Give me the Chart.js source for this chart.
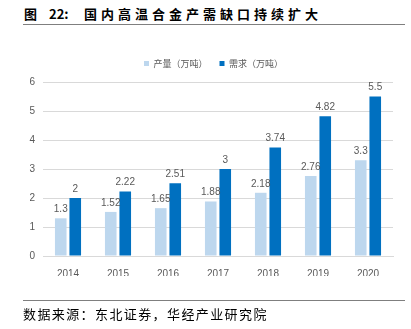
<!DOCTYPE html>
<html>
<head>
<meta charset="utf-8">
<script src="https://cdn.jsdelivr.net/npm/chart.js@4"></script>
<style>
  html, body { margin: 0; padding: 0; background: #fff; }
  body { width: 411px; height: 329px; position: relative; overflow: hidden; }
  #chart { position: absolute; left: 0; top: 0; }
  .title {
    position: absolute; top: 4px;
    font: bold 13px "Noto Sans CJK SC", sans-serif; color: #000;
    white-space: nowrap;
  }
  .rule { position: absolute; left: 23px; width: 382px; height: 1px; background: #7f7f7f; }
  .source {
    position: absolute; left: 23px; top: 304px;
    font: 13px "Noto Sans CJK SC", sans-serif; letter-spacing: 1.4px; color: #000;
    white-space: nowrap;
  }
</style>
</head>
<body>
<div class="title" style="left:24px">图</div>
<div class="title" style="left:49px">22:</div>
<div class="title" style="left:84px; letter-spacing:4px">国内高温合金产需缺口持续扩大</div>
<div class="rule" style="top:24px"></div>
<canvas id="chart" width="411" height="329"></canvas>
<div class="rule" style="top:300px"></div>
<div class="source">数据来源：东北证券，华经产业研究院</div>
<script>
/* ================================
   Data
================================ */
const years = ['2014', '2015', '2016', '2017', '2018', '2019', '2020'];
const production = [1.3, 1.52, 1.65, 1.88, 2.18, 2.76, 3.3];
const demand = [2, 2.22, 2.51, 3, 3.74, 4.82, 5.5];
const yTicks = [0, 1, 2, 3, 4, 5, 6];

/* ================================
   Value labels above bars
================================ */
const barLabels = {
  id: 'barLabels',
  afterDatasetsDraw(chart) {
    const ctx = chart.ctx;
    ctx.save();
    ctx.font = '10px "Liberation Sans", Arial, sans-serif';
    ctx.fillStyle = '#595959';
    ctx.textAlign = 'center';
    ctx.textBaseline = 'bottom';
    chart.data.datasets.forEach((ds, i) => {
      chart.getDatasetMeta(i).data.forEach((bar, j) => {
        ctx.fillText(String(ds.data[j]), bar.x, bar.y - 4);
      });
    });
    ctx.restore();
  }
};

/* ================================
   Legend nudge (extra gap below, shift right)
================================ */
const legendNudge = {
  id: 'legendNudge',
  beforeInit(chart) {
    const legend = chart.legend;
    if (!legend) return;
    const fit = legend.fit;
    legend.fit = function () {
      fit.call(this);
      this.height += 4;
    };
  },
  afterLayout(chart) {
    if (chart.legend) {
      chart.legend.left += 17;
      chart.legend.right += 17;
    }
  }
};

new Chart(document.getElementById('chart').getContext('2d'), {
  type: 'bar',
  data: {
    labels: years,
    datasets: [
      { label: '产量（万吨）', data: production, backgroundColor: '#bdd7ee' },
      { label: '需求（万吨）', data: demand, backgroundColor: '#0070c0' }
    ]
  },
  options: {
    responsive: false,
    animation: false,
    categoryPercentage: 0.58,
    barPercentage: 0.8,
    layout: { padding: { top: 47, right: 18, bottom: 53, left: 0 } },
    plugins: {
      legend: {
        position: 'top',
        labels: {
          boxWidth: 5, boxHeight: 5, padding: 12,
          color: '#595959',
          font: { size: 9, family: '"Noto Sans CJK SC", sans-serif' }
        }
      },
      tooltip: { enabled: false }
    },
    scales: {
      x: {
        grid: { display: false },
        border: { color: '#d9d9d9' },
        ticks: { color: '#595959', padding: 4, font: { size: 10, family: '"Liberation Sans", Arial, sans-serif' } },
        afterFit: s => { s.height = 20; }
      },
      y: {
        min: 0, max: 6,
        afterBuildTicks: s => { s.ticks = yTicks.map(v => ({ value: v })); },
        grid: { color: '#d9d9d9', drawTicks: false },
        border: { display: false },
        ticks: { color: '#595959', padding: 8, font: { size: 10, family: '"Liberation Sans", Arial, sans-serif' } },
        afterFit: s => { s.width = 43; }
      }
    }
  },
  plugins: [barLabels, legendNudge]
});
</script>
</body>
</html>
